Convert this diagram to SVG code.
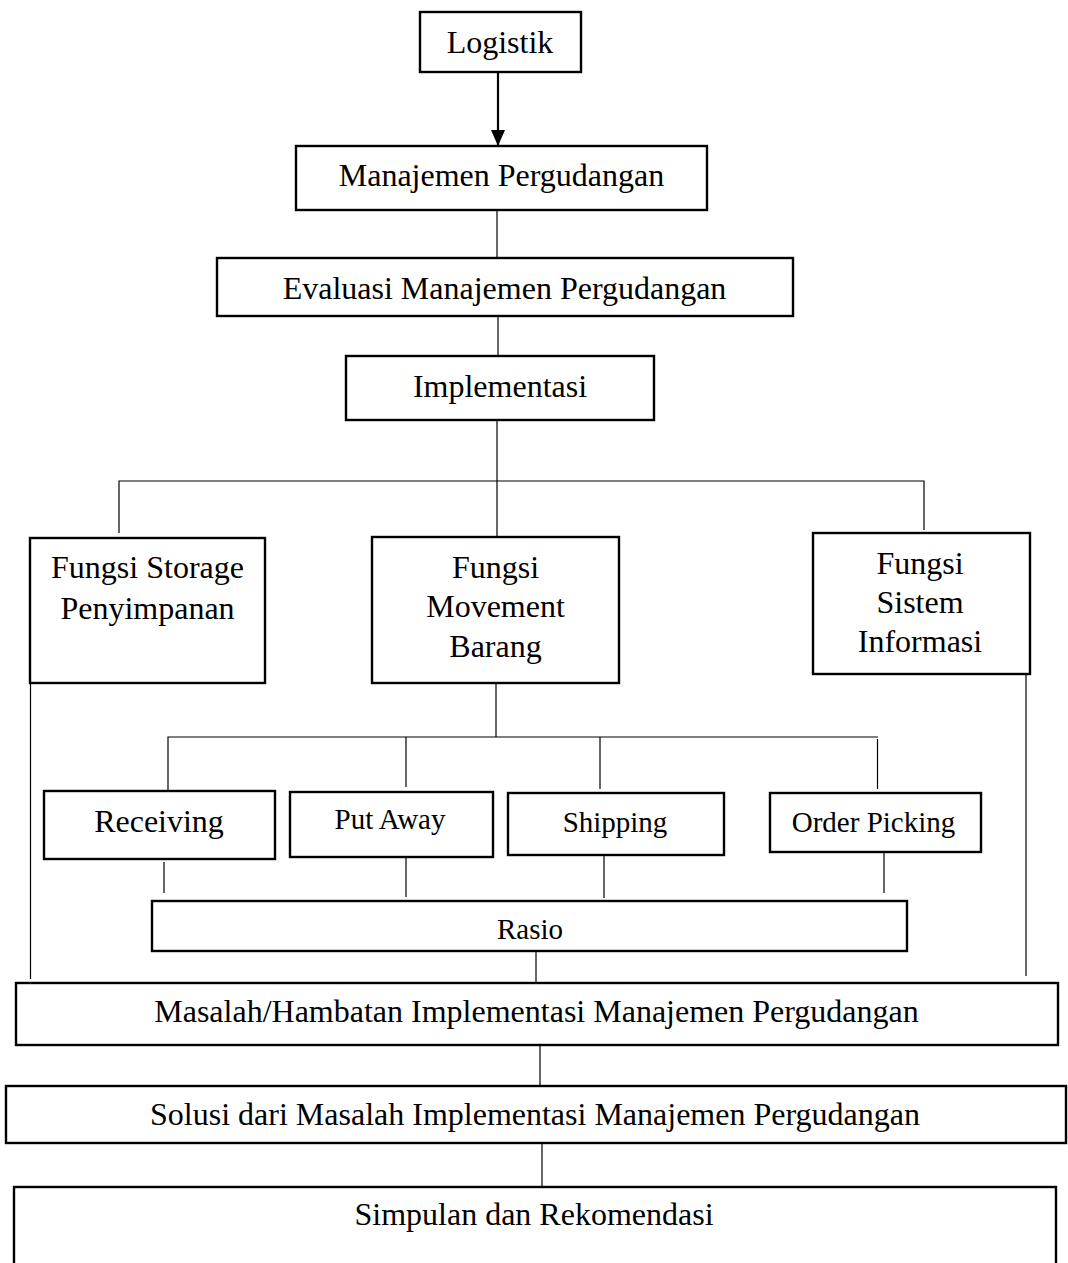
<svg xmlns="http://www.w3.org/2000/svg" width="1068" height="1263" viewBox="0 0 1068 1263">
<style>
.box{fill:#fff;stroke:#000;stroke-width:2.4}
.t{font-family:"Liberation Serif","Times New Roman",serif;font-size:32px;fill:#000;text-anchor:middle}
.s{font-size:29px}
.c{stroke:#000;stroke-width:1.2;fill:none}
</style>
<defs>
<marker id="ah" markerWidth="16" markerHeight="14" refX="16" refY="7" orient="auto" markerUnits="userSpaceOnUse">
<path d="M0,0 L16,7 L0,14 Z" fill="#000"/>
</marker>
</defs>
<rect width="1068" height="1263" fill="#fff"/>
<g id="connectors">
<line x1="498" y1="72" x2="498" y2="146" stroke="#000" stroke-width="2.2" marker-end="url(#ah)"/>
<line class="c" x1="497" y1="210" x2="497" y2="258"/>
<line class="c" x1="498" y1="316" x2="498" y2="356"/>
<line class="c" x1="497" y1="420" x2="497" y2="537"/>
<polyline class="c" points="119,533 119,481 924,481 924,530"/>
<line class="c" x1="496" y1="683" x2="496" y2="737"/>
<polyline class="c" points="168,790 168,737 878,737"/>
<line class="c" x1="877.5" y1="739" x2="877.5" y2="789"/>
<line class="c" x1="406" y1="737" x2="406" y2="787"/>
<line class="c" x1="600" y1="737" x2="600" y2="789"/>
<line class="c" x1="164" y1="862" x2="164" y2="893"/>
<line class="c" x1="406" y1="857" x2="406" y2="897"/>
<line class="c" x1="604" y1="855" x2="604" y2="898"/>
<line class="c" x1="884" y1="852" x2="884" y2="893"/>
<line class="c" x1="30.5" y1="683" x2="30.5" y2="979"/>
<line class="c" x1="1026" y1="674" x2="1026" y2="976"/>
<line class="c" x1="536" y1="951" x2="536" y2="982"/>
<line class="c" x1="540" y1="1045" x2="540" y2="1085"/>
<line class="c" x1="542" y1="1143" x2="542" y2="1187"/>
</g>
<g id="logistik"><rect class="box" x="420" y="12" width="161" height="60"/><text class="t" x="500" y="53">Logistik</text></g>
<g id="manajemen"><rect class="box" x="296" y="146" width="411" height="64"/><text class="t" x="501.5" y="186">Manajemen Pergudangan</text></g>
<g id="evaluasi"><rect class="box" x="217" y="258" width="576" height="58"/><text class="t" x="504.5" y="299">Evaluasi Manajemen Pergudangan</text></g>
<g id="implementasi"><rect class="box" x="346" y="356" width="308" height="64"/><text class="t" x="500" y="397">Implementasi</text></g>
<g id="storage"><rect class="box" x="30" y="538" width="235" height="145"/><text class="t" x="147.5" y="578">Fungsi Storage</text><text class="t" x="147.5" y="619">Penyimpanan</text></g>
<g id="movement"><rect class="box" x="372" y="537" width="247" height="146"/><text class="t" x="495.5" y="578">Fungsi</text><text class="t" x="495.5" y="617">Movement</text><text class="t" x="495.5" y="657">Barang</text></g>
<g id="sistem"><rect class="box" x="813" y="533" width="217" height="141"/><text class="t" x="920" y="574">Fungsi</text><text class="t" x="920" y="613">Sistem</text><text class="t" x="920" y="652">Informasi</text></g>
<g id="receiving"><rect class="box" x="44" y="791" width="231" height="68"/><text class="t" x="159" y="832">Receiving</text></g>
<g id="putaway"><rect class="box" x="290" y="792" width="203" height="65"/><text class="t s" x="390" y="829">Put Away</text></g>
<g id="shipping"><rect class="box" x="508" y="793" width="216" height="62"/><text class="t s" x="615" y="832">Shipping</text></g>
<g id="orderpicking"><rect class="box" x="770" y="793" width="211" height="59"/><text class="t s" x="873.5" y="832">Order Picking</text></g>
<g id="rasio"><rect class="box" x="152" y="901" width="755" height="50"/><text class="t s" x="530" y="939">Rasio</text></g>
<g id="masalah"><rect class="box" x="16" y="983" width="1042" height="62"/><text class="t" x="536.5" y="1022">Masalah/Hambatan Implementasi Manajemen Pergudangan</text></g>
<g id="solusi"><rect class="box" x="6" y="1086" width="1060" height="57"/><text class="t" x="535" y="1125">Solusi dari Masalah Implementasi Manajemen Pergudangan</text></g>
<g id="simpulan"><rect class="box" x="14" y="1187" width="1042" height="90"/><text class="t" x="534" y="1225">Simpulan dan Rekomendasi</text></g>
</svg>
